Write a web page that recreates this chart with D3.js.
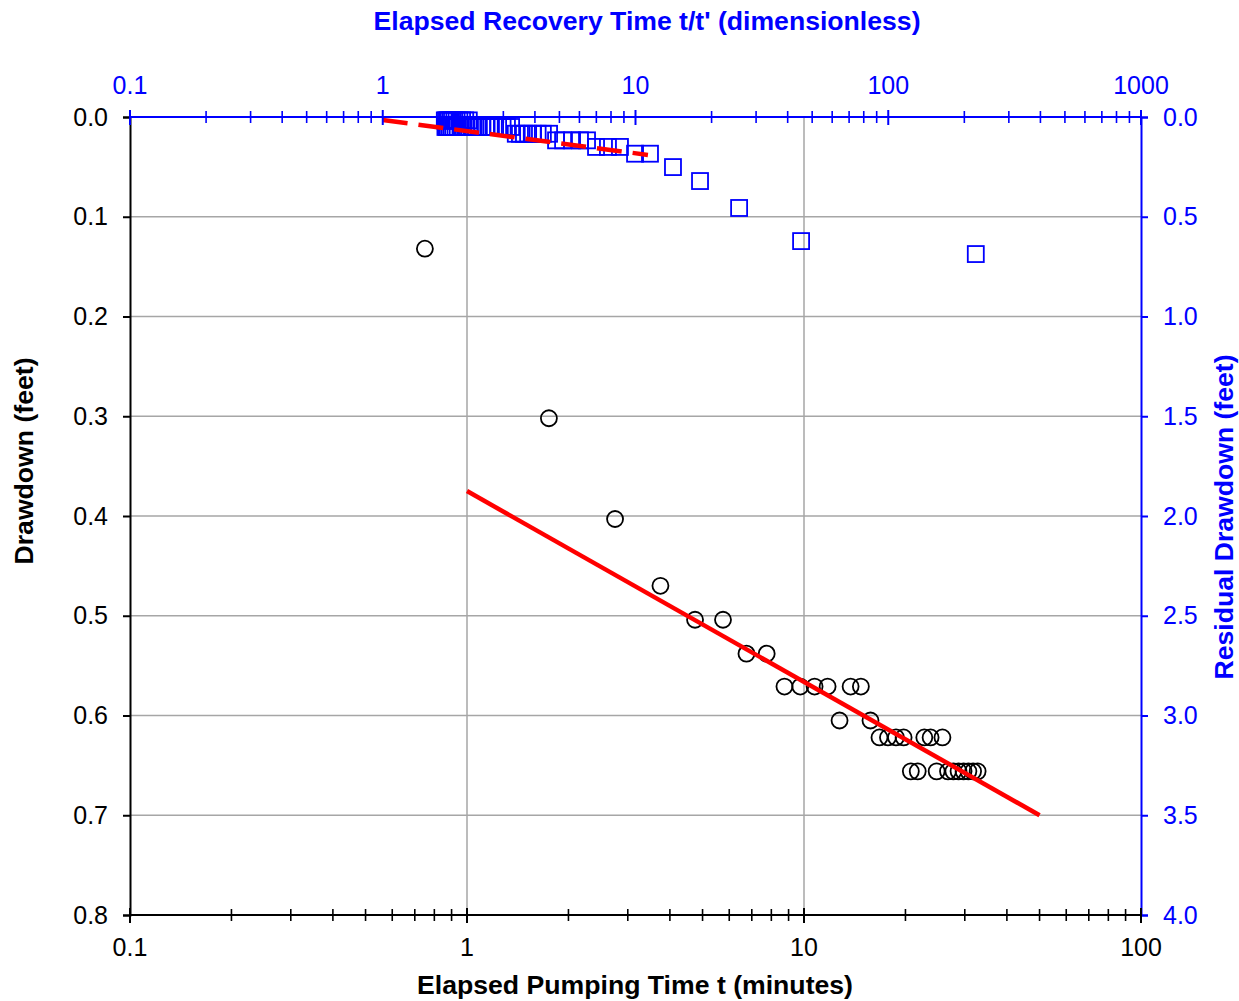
<!DOCTYPE html>
<html>
<head>
<meta charset="utf-8">
<script src="https://cdn.jsdelivr.net/npm/d3@7"></script>
<style>
  body { margin: 0; background: #ffffff; }
  svg text { font-family: "Liberation Sans", Arial, sans-serif; }
</style>
</head>
<body>
<svg id="chart" width="1239" height="1001"></svg>
<script>
// ---- Pumping phase: elapsed time t (minutes) and drawdown (feet)
const pumpTime = [0.75, 1.75, 2.75, 3.75, 4.75, 5.75, 6.75, 7.75, 8.75, 9.75,
  10.75, 11.75, 12.75, 13.75, 14.75, 15.75, 16.75, 17.75, 18.75, 19.75,
  20.75, 21.75, 22.75, 23.75, 24.75, 25.75, 26.75, 27.75, 28.75, 29.75,
  30.75, 31.75, 32.75];
const drawdown = [0.132, 0.302, 0.403, 0.470, 0.504, 0.504, 0.538, 0.538, 0.571, 0.571,
  0.571, 0.571, 0.605, 0.571, 0.571, 0.605, 0.622, 0.622, 0.622, 0.622,
  0.656, 0.656, 0.622, 0.622, 0.656, 0.622, 0.656, 0.656, 0.656, 0.656,
  0.656, 0.656, 0.656];

// ---- Recovery phase: t/t' (dimensionless) and residual drawdown (feet)
const recoveryRatio = [222, 45.2, 25.7, 18.0, 14.07, 11.41, 9.96, 8.68, 7.78, 6.98,
  6.43, 6.03, 5.61, 5.17, 4.85, 4.55, 4.30, 4.10, 3.92, 3.76,
  3.62, 3.49, 3.36, 3.22, 3.10, 2.98, 2.86, 2.75, 2.65, 2.56,
  2.48, 2.40, 2.33, 2.26, 2.20, 2.14, 2.08, 2.03, 1.98, 1.94,
  1.90, 1.87, 1.84, 1.81, 1.79, 1.77, 2.19, 2.12, 2.06, 2.01,
  1.96, 1.92, 1.88, 1.85, 1.82, 1.80, 1.78, 1.76];
const residualDrawdown = [0.687, 0.622, 0.456, 0.321, 0.251, 0.184, 0.184, 0.150, 0.150, 0.150,
  0.117, 0.117, 0.117, 0.117, 0.117, 0.084, 0.084, 0.084, 0.084, 0.084,
  0.084, 0.084, 0.084, 0.050, 0.050, 0.050, 0.050, 0.050, 0.050, 0.050,
  0.050, 0.050, 0.050, 0.050, 0.050, 0.050, 0.050, 0.050, 0.050, 0.050,
  0.050, 0.050, 0.050, 0.050, 0.050, 0.050, 0.017, 0.017, 0.017, 0.017,
  0.017, 0.017, 0.017, 0.017, 0.017, 0.017, 0.017, 0.017];

// ---- Straight-line fits (semi-log)
const pumpFitTime = [1, 50];
const pumpFitDrawdown = [0.375, 0.700];
const recoveryFitRatio = [1, 11.2];
const recoveryFitResidual = [0.015, 0.190];

// ---- Axis ticks
const bottomTicks = [0.1, 1, 10, 100];
const topTicks = [0.1, 1, 10, 100, 1000];
const leftTicks = [0, 0.1, 0.2, 0.3, 0.4, 0.5, 0.6, 0.7, 0.8];
const rightTicks = [0, 0.5, 1.0, 1.5, 2.0, 2.5, 3.0, 3.5, 4.0];
const timeGrid = [1, 10];

const BLUE = "#0000ff", RED = "#ff0000", GRID = "#a6a6a6";
const plot = { left: 130, right: 1141, top: 117, bottom: 915 };

const svg = d3.select("#chart");

const x = d3.scaleLog().domain([0.1, 100]).range([plot.left, plot.right]);
const xTop = d3.scaleLog().domain([0.1, 1000]).range([plot.left, plot.right]);
const y = d3.scaleLinear().domain([0, 0.8]).range([plot.top, plot.bottom]);
const yRight = d3.scaleLinear().domain([0, 4]).range([plot.top, plot.bottom]);

// gridlines
const grid = svg.append("g").attr("stroke", GRID).attr("stroke-width", 1.5);
grid.selectAll("line.h").data(leftTicks.filter(v => v > 0 && v < 0.8)).join("line")
  .attr("class", "h")
  .attr("x1", plot.left).attr("x2", plot.right)
  .attr("y1", d => y(d)).attr("y2", d => y(d));
grid.selectAll("line.v").data(timeGrid).join("line")
  .attr("class", "v")
  .attr("x1", d => x(d)).attr("x2", d => x(d))
  .attr("y1", plot.top).attr("y2", plot.bottom);

// recovery squares
const sq = 16;
svg.append("g").selectAll("rect")
  .data(d3.range(recoveryRatio.length))
  .join("rect")
  .attr("x", i => xTop(recoveryRatio[i]) - sq / 2)
  .attr("y", i => yRight(residualDrawdown[i]) - sq / 2)
  .attr("width", sq).attr("height", sq)
  .attr("fill", "none").attr("stroke", BLUE).attr("stroke-width", 1.8);

// pumping circles
svg.append("g").selectAll("circle")
  .data(d3.range(pumpTime.length))
  .join("circle")
  .attr("cx", i => x(pumpTime[i]))
  .attr("cy", i => y(drawdown[i]))
  .attr("r", 8)
  .attr("fill", "none").attr("stroke", "#000").attr("stroke-width", 1.8);

// fitted lines
const pumpLine = d3.line().x(i => x(pumpFitTime[i])).y(i => y(pumpFitDrawdown[i]));
svg.append("path").attr("d", pumpLine([0, 1]))
  .attr("stroke", RED).attr("stroke-width", 4.5).attr("fill", "none");
const recLine = d3.line().x(i => xTop(recoveryFitRatio[i])).y(i => yRight(recoveryFitResidual[i]));
svg.append("path").attr("d", recLine([0, 1]))
  .attr("stroke", RED).attr("stroke-width", 4.5).attr("fill", "none")
  .attr("stroke-dasharray", "25 11");

// ---- axes
const fmt1 = d3.format(".1f");
const tickFont = 25;

// left axis
const gl = svg.append("g").attr("transform", `translate(${plot.left},0)`)
  .call(d3.axisLeft(y).tickValues(leftTicks).tickFormat(fmt1).tickSize(7).tickPadding(15));
gl.select(".domain").attr("stroke", "#000").attr("stroke-width", 2);
gl.selectAll(".tick line").attr("stroke", "#000").attr("stroke-width", 2);
gl.selectAll("text").attr("font-size", tickFont).attr("fill", "#000")
  .attr("font-family", "Liberation Sans, Arial, sans-serif");

// right axis
const gr = svg.append("g").attr("transform", `translate(${plot.right},0)`)
  .call(d3.axisRight(yRight).tickValues(rightTicks).tickFormat(fmt1).tickSize(7).tickPadding(15));
gr.select(".domain").attr("stroke", BLUE).attr("stroke-width", 2);
gr.selectAll(".tick line").attr("stroke", BLUE).attr("stroke-width", 2);
gr.selectAll("text").attr("font-size", tickFont).attr("fill", BLUE)
  .attr("font-family", "Liberation Sans, Arial, sans-serif");

// crossing tick marks for log axes
function logAxis(scale, yPos, color, labels, labelY) {
  const g = svg.append("g");
  g.append("line").attr("x1", plot.left).attr("x2", plot.right)
    .attr("y1", yPos).attr("y2", yPos).attr("stroke", color).attr("stroke-width", 2);
  const all = scale.ticks();
  g.selectAll("line.t").data(all).join("line").attr("class", "t")
    .attr("x1", d => scale(d)).attr("x2", d => scale(d))
    .attr("y1", d => yPos - (labels.includes(d) ? 7 : 6))
    .attr("y2", d => yPos + (labels.includes(d) ? 8 : 6))
    .attr("stroke", color).attr("stroke-width", d => labels.includes(d) ? 2 : 1.6);
  g.selectAll("text").data(labels).join("text")
    .attr("x", d => scale(d)).attr("y", labelY)
    .attr("text-anchor", "middle").attr("font-size", tickFont).attr("fill", color)
    .text(d => d3.format("~g")(d));
}
logAxis(x, plot.bottom, "#000", bottomTicks, 956);
logAxis(xTop, plot.top, BLUE, topTicks, 94);

// ---- axis titles
svg.append("text").attr("x", 647).attr("y", 30).attr("text-anchor", "middle")
  .attr("font-size", 25).attr("font-weight", "bold").attr("fill", BLUE)
  .attr("textLength", 547).attr("lengthAdjust", "spacingAndGlyphs")
  .text("Elapsed Recovery Time t/t' (dimensionless)");
svg.append("text").attr("x", 635).attr("y", 994).attr("text-anchor", "middle")
  .attr("font-size", 25).attr("font-weight", "bold").attr("fill", "#000")
  .attr("textLength", 436).attr("lengthAdjust", "spacingAndGlyphs")
  .text("Elapsed Pumping Time t (minutes)");
svg.append("text").attr("transform", "translate(33,461) rotate(-90)")
  .attr("text-anchor", "middle")
  .attr("font-size", 25).attr("font-weight", "bold").attr("fill", "#000")
  .attr("textLength", 207).attr("lengthAdjust", "spacingAndGlyphs")
  .text("Drawdown (feet)");
svg.append("text").attr("transform", "translate(1233,517) rotate(-90)")
  .attr("text-anchor", "middle")
  .attr("font-size", 25).attr("font-weight", "bold").attr("fill", BLUE)
  .attr("textLength", 325).attr("lengthAdjust", "spacingAndGlyphs")
  .text("Residual Drawdown (feet)");
</script>
</body>
</html>
